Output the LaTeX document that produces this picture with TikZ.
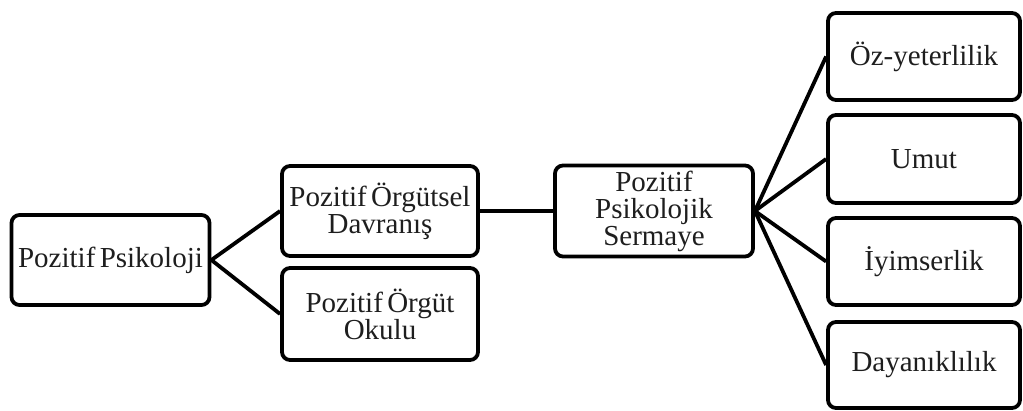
\documentclass[tikz,border=0pt]{standalone}
\usepackage{fontspec}
\setmainfont{Liberation Serif}[WordSpace=0.6]
\usepackage{tikz}
\usetikzlibrary{positioning}
\definecolor{kmLine}{RGB}{0,0,0}
\definecolor{kmText}{RGB}{30,30,30}

\begin{document}
\begin{tikzpicture}[x=1pt, y=-1pt,
  kutu/.style={draw=kmLine, line width=3.8pt, rounded corners=8pt, align=center,
    text=kmText, inner sep=0pt, minimum width=196pt,
    font=\fontsize{29}{27}\selectfont},
  bag/.style={draw=kmLine, line width=3.8pt}]
  \useasboundingbox (0,0) rectangle (1023,410);

  % Left column
  \node[kutu, minimum height=90pt, minimum width=198pt] (psik) at (110.5,260) {Pozitif Psikoloji};

  % Middle column
  \node[kutu, minimum height=90pt] (pod) at (380,211) {Pozitif Örgütsel\\Davranış};
  \node[kutu, minimum height=92pt] (okul) at (380,314) {Pozitif Örgüt\\Okulu};
  \node[kutu, minimum height=91pt, minimum width=198pt] (pps) at (654,211) {Pozitif\\Psikolojik\\Sermaye};

  % Right column
  \node[kutu, minimum height=87pt, minimum width=192pt] (oz) at (924,56.5) {Öz-yeterlilik};
  \node[kutu, minimum height=88pt, minimum width=192pt] (umut) at (924,159) {Umut};
  \node[kutu, minimum height=87pt, minimum width=192pt] (iyim) at (924,261.5) {İyimserlik};
  \node[kutu, minimum height=86pt, minimum width=192pt] (dayan) at (924,365) {Dayanıklılık};

  % Connectors
  \draw[bag] (psik.east) -- (pod.west);
  \draw[bag] (psik.east) -- (okul.west);
  \draw[bag] (pod.east) -- (pps.west);
  \foreach \hedef in {oz,umut,iyim,dayan}
    \draw[bag] (pps.east) -- (\hedef.west);
\end{tikzpicture}
\end{document}
